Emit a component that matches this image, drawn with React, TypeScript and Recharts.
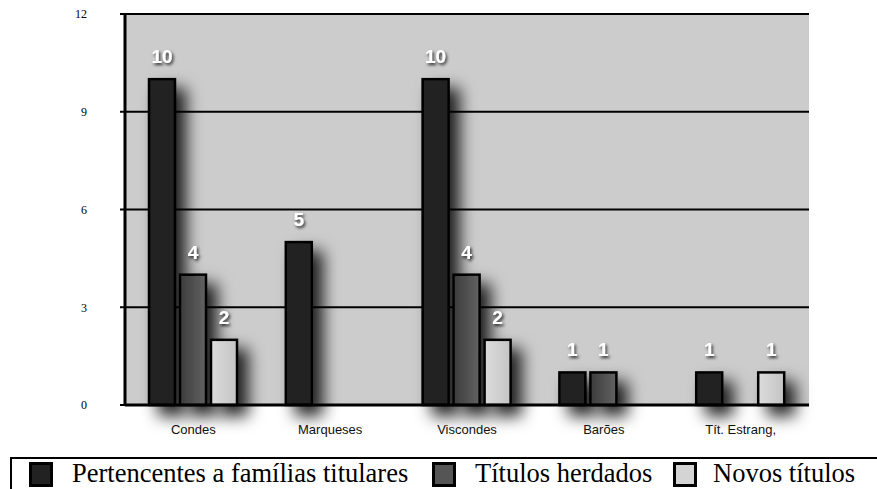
import React from 'react';
import { BarChart, Bar, XAxis, YAxis, CartesianGrid, LabelList } from 'recharts';

const categories = ['Condes', 'Marqueses', 'Viscondes', 'Barões', 'Tít. Estrang,'];
const familias = [10, 5, 10, 1, 1];
const herdados = [4, 0, 4, 1, 0];
const novos = [2, 0, 2, 0, 1];
const yTicks = [0, 3, 6, 9, 12];
const boundaryTicks = [0, 1, 2, 3, 4, 5];
const seriesNames = ['Pertencentes a famílias titulares', 'Títulos herdados', 'Novos títulos'];

const data = categories.map((name, i) => ({
  name,
  a: familias[i],
  b: herdados[i],
  c: novos[i],
}));

const SANS = '"Liberation Sans", Arial, Helvetica, sans-serif';
const SERIF = '"Liberation Serif", "Times New Roman", serif';

const makeShape = (fill: string) => (props: any) => {
  const { x, y, width, height } = props;
  if (!height || height <= 0) return <g />;
  return (
    <rect
      x={x}
      y={y}
      width={width}
      height={height}
      fill={fill}
      stroke="#000"
      strokeWidth={2.5}
      filter="url(#barShadow)"
    />
  );
};

const renderLabel = (props: any) => {
  const vb = props.viewBox || {};
  const x = props.x ?? vb.x;
  const y = props.y ?? vb.y;
  const width = props.width ?? vb.width;
  const value = props.value;
  if (!value) return <g />;
  return (
    <text
      x={x + width / 2}
      y={y - 16}
      textAnchor="middle"
      fill="#fff"
      fontSize={19}
      fontWeight="bold"
      fontFamily={SANS}
      filter="url(#textShadow)"
    >
      {value}
    </text>
  );
};

const swatchColors = ['#222222', '#555555', '#d4d4d4'];
const legendSwatchX = [29, 432, 673];
const legendTextX = [72, 475, 713];

export default function App() {
  return (
    <div
      style={{
        position: 'fixed',
        left: 0,
        top: 0,
        width: 877,
        height: 489,
        overflow: 'hidden',
        background: '#fff',
      }}
    >
      <BarChart
        width={877}
        height={489}
        data={data}
        margin={{ top: 14, right: 68, bottom: 54, left: 0 }}
        barSize={26}
        barGap={5}
      >
        <defs>
          <filter id="barShadow" x="-60%" y="-60%" width="300%" height="300%">
            <feDropShadow dx="10" dy="10" stdDeviation="8" floodColor="#000" floodOpacity="0.85" />
          </filter>
          <filter id="textShadow" x="-50%" y="-50%" width="200%" height="200%">
            <feDropShadow dx="1.5" dy="2" stdDeviation="1.8" floodColor="#000" floodOpacity="0.8" />
          </filter>
          <linearGradient id="medGrad" x1="0" y1="0" x2="1" y2="0">
            <stop offset="0%" stopColor="#3c3c3c" />
            <stop offset="100%" stopColor="#626262" />
          </linearGradient>
          <linearGradient id="lightGrad" x1="0" y1="0" x2="1" y2="0">
            <stop offset="0%" stopColor="#dcdcdc" />
            <stop offset="100%" stopColor="#c4c4c4" />
          </linearGradient>
        </defs>
        <CartesianGrid
          vertical={false}
          stroke="#000"
          strokeWidth={2}
          fill="#cccccc"
          fillOpacity={1}
        />
        <XAxis
          xAxisId="bounds"
          type="number"
          domain={[0, 5]}
          ticks={boundaryTicks}
          tick={false}
          axisLine={false}
          tickLine={{ stroke: '#000', strokeWidth: 2 }}
          tickSize={5}
          height={0}
          allowDataOverflow
        />
        <XAxis
          dataKey="name"
          axisLine={{ stroke: '#000', strokeWidth: 3 }}
          tickLine={false}
          tickSize={5}
          tickMargin={15}
          height={30}
          tick={{ fill: '#111', fontSize: 13, fontFamily: SANS }}
          interval={0}
        />
        <YAxis
          domain={[0, 12]}
          ticks={yTicks}
          width={125}
          axisLine={{ stroke: '#000', strokeWidth: 3 }}
          tickLine={{ stroke: '#000', strokeWidth: 2 }}
          tickSize={5}
          tickMargin={33}
          tick={{ fill: '#000', fontSize: 12, fontFamily: SERIF }}
        />
        <YAxis
          yAxisId="right"
          orientation="right"
          domain={[0, 12]}
          width={0}
          tick={false}
          tickLine={false}
          axisLine={{ stroke: '#000', strokeWidth: 2 }}
        />
        <Bar dataKey="a" name={seriesNames[0]} isAnimationActive={false} shape={makeShape('#222222')}>
          <LabelList dataKey="a" content={renderLabel} />
        </Bar>
        <Bar dataKey="b" name={seriesNames[1]} isAnimationActive={false} shape={makeShape('url(#medGrad)')}>
          <LabelList dataKey="b" content={renderLabel} />
        </Bar>
        <Bar dataKey="c" name={seriesNames[2]} isAnimationActive={false} shape={makeShape('url(#lightGrad)')}>
          <LabelList dataKey="c" content={renderLabel} />
        </Bar>
      </BarChart>
      <div
        style={{
          position: 'absolute',
          left: 10,
          top: 457,
          width: 880,
          height: 50,
          border: '2px solid #000',
          boxSizing: 'border-box',
          background: '#fff',
        }}
      />
      {seriesNames.map((n, i) => (
        <React.Fragment key={n}>
          <div
            style={{
              position: 'absolute',
              left: legendSwatchX[i],
              top: 462,
              width: 18,
              height: 19,
              border: '3px solid #000',
              background: swatchColors[i],
            }}
          />
          <div
            style={{
              position: 'absolute',
              left: legendTextX[i],
              top: 458,
              fontFamily: SERIF,
              fontSize: 26.5,
              lineHeight: '30px',
              color: '#000',
              whiteSpace: 'nowrap',
            }}
          >
            {n}
          </div>
        </React.Fragment>
      ))}
    </div>
  );
}
